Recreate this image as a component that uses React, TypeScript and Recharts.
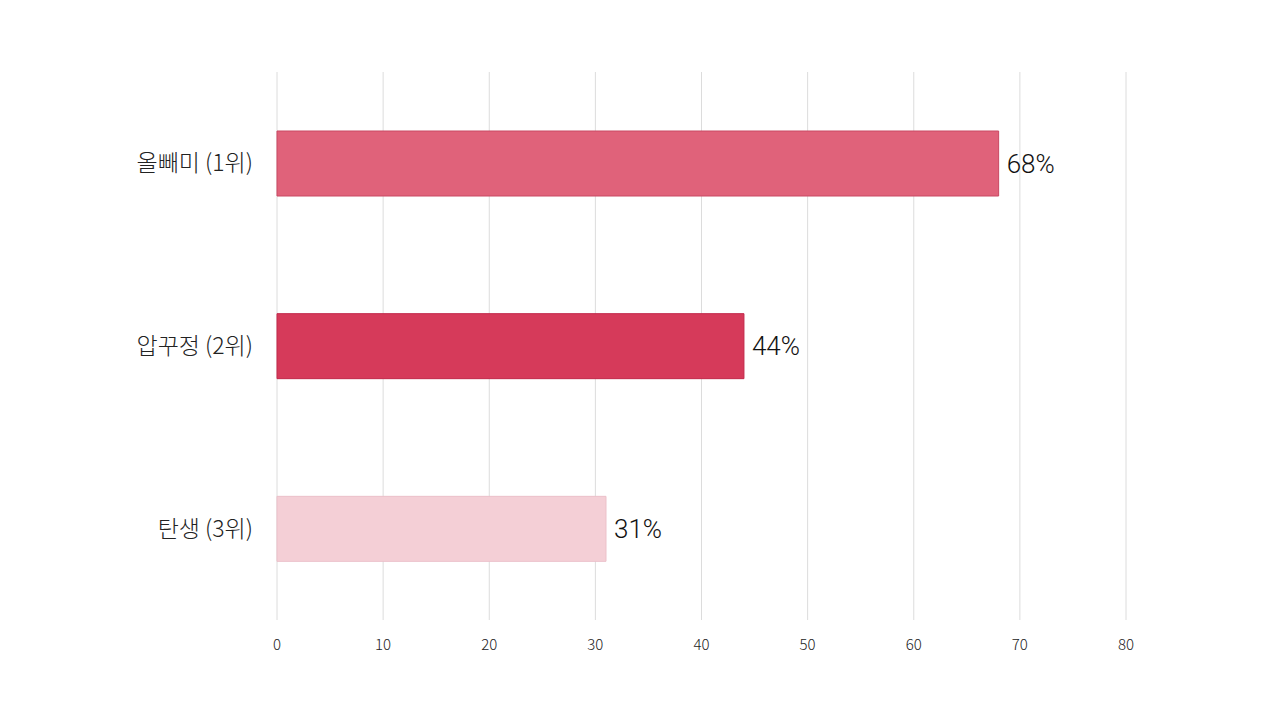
import { Bar, BarChart, CartesianGrid, Cell, LabelList, XAxis, YAxis } from 'recharts';

const categories = ['올빼미 (1위)', '압꾸정 (2위)', '탄생 (3위)'];
const shares = [68, 44, 31];
const xTicks = [0, 10, 20, 30, 40, 50, 60, 70, 80];

const fills = ['#E0627A', '#D63A5A', '#F4CFD6'];
const strokes = ['#C94862', '#C2284A', '#EBC0C9'];

const data = categories.map((name, i) => ({ name, value: shares[i] }));

export default function App() {
  return (
    <div style={{ position: 'absolute', left: 0, top: 0, width: 1280, height: 720, background: '#fff' }}>
      <BarChart
        width={1280}
        height={720}
        data={data}
        layout="vertical"
        margin={{ top: 72, right: 154, left: 0, bottom: 0 }}
        barCategoryGap="32%"
      >
        <CartesianGrid stroke="#dcdcdc" horizontal={false} />
        <XAxis
          type="number"
          domain={[0, 80]}
          ticks={xTicks}
          axisLine={false}
          tickLine={false}
          tickMargin={13}
          height={100}
          tick={{ fill: '#222', fontSize: 15, fontWeight: 300, fontFamily: "'Noto Sans CJK KR', 'Noto Sans', sans-serif" }}
        />
        <YAxis
          type="category"
          dataKey="name"
          width={277}
          axisLine={false}
          tickLine={false}
          tickMargin={18}
          tick={{ fill: '#222', fontSize: 23, fontWeight: 300, fontFamily: "'Noto Sans CJK KR', sans-serif" }}
        />
        <Bar dataKey="value" barSize={65} isAnimationActive={false}>
          {data.map((d, i) => (
            <Cell key={d.name} fill={fills[i]} stroke={strokes[i]} strokeWidth={1} />
          ))}
          <LabelList
            dataKey="value"
            position="right"
            offset={8}
            formatter={(v: any) => `${v}%`}
            style={{ fill: '#111', fontSize: 26, fontWeight: 300, fontFamily: "Roboto, 'Noto Sans CJK KR', sans-serif" }}
          />
        </Bar>
      </BarChart>
    </div>
  );
}
